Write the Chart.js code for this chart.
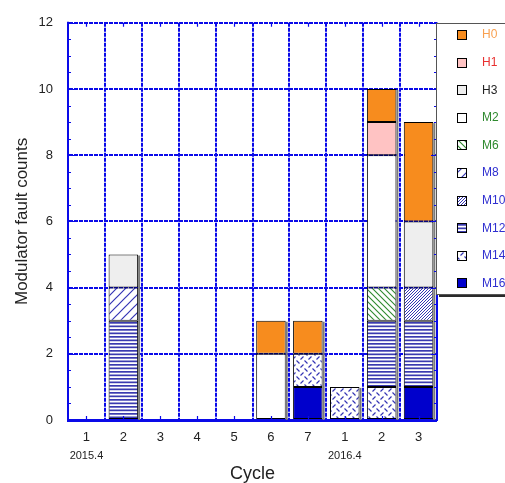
<!DOCTYPE html>
<html>
<head>
<meta charset="utf-8">
<script src="https://cdn.jsdelivr.net/npm/chart.js@4.4.1/dist/chart.umd.min.js"></script>
<style>
  html, body { margin: 0; padding: 0; background: #fff; overflow: hidden; }
</style>
</head>
<body>
<canvas id="c" width="505" height="483"></canvas>
<script>
// Cycle numbers along the x axis, with the run period written under the first cycle of each run
const cycles  = ['1', '2', '3', '4', '5', '6', '7', '1', '2', '3'];
const periods = ['2015.4', '', '', '', '', '', '', '2016.4', '', ''];
const yMin = 0, yMax = 12, yStep = 2;

// Fault counts per modulator, one value per cycle
const H0  = [0, 0, 0, 0, 0, 1, 1, 0, 1, 3];
const H1  = [0, 0, 0, 0, 0, 0, 0, 0, 1, 0];
const H3  = [0, 1, 0, 0, 0, 0, 0, 0, 0, 2];
const M2  = [0, 0, 0, 0, 0, 2, 0, 0, 4, 0];
const M6  = [0, 0, 0, 0, 0, 0, 0, 0, 1, 0];
const M8  = [0, 1, 0, 0, 0, 0, 0, 0, 0, 0];
const M10 = [0, 0, 0, 0, 0, 0, 0, 0, 0, 1];
const M12 = [0, 3, 0, 0, 0, 0, 0, 0, 2, 2];
const M14 = [0, 0, 0, 0, 0, 0, 1, 1, 1, 0];
const M16 = [0, 0, 0, 0, 0, 0, 1, 0, 0, 1];

const BLUE = '#0a0ae8';
const FONT = 'Arial, "Liberation Sans", sans-serif';

const canvas = document.getElementById('c');
const ctx0 = canvas.getContext('2d');

// Small repeating tiles used as hatch fills
function tile(w, h, bg, draw) {
  const t = document.createElement('canvas');
  t.width = w; t.height = h;
  const g = t.getContext('2d');
  g.fillStyle = bg; g.fillRect(0, 0, w, h);
  draw(g, w, h);
  return ctx0.createPattern(t, 'repeat');
}
function slash(s, color, lw) {           // "/" hatching
  return tile(s, s, '#fff', (g) => {
    g.strokeStyle = color; g.lineWidth = lw;
    g.beginPath();
    g.moveTo(-1, s + 1); g.lineTo(s + 1, -1);
    g.moveTo(-1, 1); g.lineTo(1, -1);
    g.moveTo(s - 1, s + 1); g.lineTo(s + 1, s - 1);
    g.stroke();
  });
}
function backslash(s, color, lw) {       // "\" hatching
  return tile(s, s, '#fff', (g) => {
    g.strokeStyle = color; g.lineWidth = lw;
    g.beginPath();
    g.moveTo(-1, -1); g.lineTo(s + 1, s + 1);
    g.moveTo(s - 1, -1); g.lineTo(s + 1, 1);
    g.moveTo(-1, s - 1); g.lineTo(1, s + 1);
    g.stroke();
  });
}
const fillM6  = backslash(6, '#2f8a2f', 1.1);
const fillM8  = slash(9, '#3535b5', 1.2);
const fillM10 = slash(3, '#3535b5', 1);
const fillM12 = tile(7, 7, '#fff', (g, w) => {
  g.fillStyle = '#3a3ab0';
  g.fillRect(0, 0, w, 1.7);
  g.fillRect(0, 3.5, w, 1.7);
});
const fillM14 = tile(8, 8, '#fff', (g) => {
  g.strokeStyle = '#3535b5'; g.lineWidth = 1.2;
  g.beginPath();
  g.moveTo(0.5, 0.5); g.lineTo(3.5, 3.5);
  g.moveTo(4.5, 7.5); g.lineTo(7.5, 4.5);
  g.stroke();
});

// Stack order is bottom to top; the key lists them top to bottom
const series = [
  { name: 'M16', data: M16, fill: '#0000cc', text: '#2f2fd0' },
  { name: 'M14', data: M14, fill: fillM14,   text: '#2f2fd0' },
  { name: 'M12', data: M12, fill: fillM12,   text: '#2f2fd0' },
  { name: 'M10', data: M10, fill: fillM10,   text: '#2f2fd0' },
  { name: 'M8',  data: M8,  fill: fillM8,    text: '#2f2fd0' },
  { name: 'M6',  data: M6,  fill: fillM6,    text: '#2f8a2f' },
  { name: 'M2',  data: M2,  fill: '#ffffff', text: '#2f8a2f' },
  { name: 'H3',  data: H3,  fill: '#eeeeee', text: '#222222' },
  { name: 'H1',  data: H1,  fill: '#ffc3c3', text: '#e8302f' },
  { name: 'H0',  data: H0,  fill: '#f78c1e', text: '#f8a050' },
];

const datasets = series.map(s => ({
  label: s.name,
  data: s.data.map(v => (v > 0 ? v : null)),
  backgroundColor: s.fill,
  borderColor: '#000',
  borderWidth: 1,
  borderSkipped: false,
  categoryPercentage: 0.8,
  barPercentage: 1.0,
  textColor: s.text,
}));

// Grey edge to the right of each stacked column
const columnEdge = {
  id: 'columnEdge',
  afterDatasetsDraw(chart) {
    const ctx = chart.ctx;
    const y = chart.scales.y;
    ctx.save();
    ctx.fillStyle = '#7a7a7a';
    for (let j = 0; j < cycles.length; j++) {
      let topY = null, xR = null;
      chart.data.datasets.forEach((ds, i) => {
        if (ds.data[j] == null) return;
        const el = chart.getDatasetMeta(i).data[j];
        if (topY === null || el.y < topY) topY = el.y;
        xR = el.x + el.width / 2;
      });
      if (topY === null) continue;
      const base = y.getPixelForValue(0);
      ctx.fillRect(xR, topY + 1, 2, base - topY - 1);
    }
    ctx.restore();
  }
};

// Axis lines, inward tick marks, period labels and the key
const frame = {
  id: 'frame',
  afterDraw(chart) {
    const ctx = chart.ctx;
    const { left, right, top, bottom } = chart.chartArea;
    const { x, y } = chart.scales;
    ctx.save();
    ctx.strokeStyle = BLUE;
    ctx.lineWidth = 2;
    ctx.beginPath();
    ctx.moveTo(left, top - 1); ctx.lineTo(left, bottom + 1); ctx.lineTo(right, bottom + 1);
    ctx.moveTo(right, top); ctx.lineTo(right, bottom + 1);
    ctx.stroke();

    ctx.lineWidth = 1.2;
    ctx.beginPath();
    for (let v = yMin; v <= yMax + 1e-9; v += yStep / 4) {
      const py = Math.round(y.getPixelForValue(v)) + 0.5;
      const len = Math.abs(v % yStep) < 1e-9 ? 6 : 3;
      ctx.moveTo(left, py); ctx.lineTo(left + len, py);
      ctx.moveTo(right - len, py); ctx.lineTo(right, py);
    }
    for (let i = 0; i < cycles.length; i++) {
      const px = Math.round(x.getPixelForValue(i)) + 0.5;
      ctx.moveTo(px, bottom); ctx.lineTo(px, bottom - 4);
      ctx.moveTo(px, top); ctx.lineTo(px, top + 4);
    }
    ctx.stroke();

    // run period under the first cycle of each run
    ctx.fillStyle = '#222';
    ctx.font = '11px ' + FONT;
    ctx.textAlign = 'center';
    ctx.textBaseline = 'middle';
    periods.forEach((p, i) => {
      if (p) ctx.fillText(p, x.getPixelForValue(i), 456);
    });

    // key box with drop shadow
    const bx = 436, by = 23, bw = 90, bh = 271;
    ctx.fillStyle = '#2a2a2a';
    ctx.fillRect(bx + 3, by + 3, bw, bh);
    ctx.fillStyle = '#fff';
    ctx.fillRect(bx, by, bw, bh);
    ctx.strokeStyle = '#555';
    ctx.lineWidth = 1;
    ctx.strokeRect(bx + 0.5, by + 0.5, bw, bh);

    const rows = chart.data.datasets.slice().reverse();
    ctx.font = '12px ' + FONT;
    ctx.textAlign = 'left';
    rows.forEach((ds, k) => {
      const cy = 35 + k * 27.6;
      ctx.fillStyle = ds.backgroundColor;
      ctx.fillRect(457, Math.round(cy) - 5, 10, 10);
      ctx.strokeStyle = '#000';
      ctx.strokeRect(457.5, Math.round(cy) - 4.5, 9, 9);
      ctx.fillStyle = ds.textColor;
      ctx.fillText(ds.label, 482, cy);
    });
    ctx.restore();
  }
};

new Chart(canvas, {
  type: 'bar',
  data: { labels: cycles, datasets },
  plugins: [columnEdge, frame],
  options: {
    responsive: false,
    animation: false,
    events: [],
    layout: { padding: { left: 0, top: 20, right: 68, bottom: 0 } },
    plugins: { legend: { display: false }, tooltip: { enabled: false } },
    scales: {
      x: {
        stacked: true,
        grid: { color: BLUE, lineWidth: 2, drawTicks: false, offset: true },
        border: { display: true, color: BLUE, width: 2, dash: [4, 1] },
        ticks: { color: '#222', font: { family: FONT, size: 13 }, padding: 10, maxRotation: 0, autoSkip: false },
        title: { display: true, text: 'Cycle', color: '#222', font: { family: FONT, size: 18, lineHeight: 1 }, padding: { top: 0, bottom: 0 } },
        afterFit(s) { s.height = 63; }
      },
      y: {
        stacked: true,
        min: yMin, max: yMax,
        grid: { color: BLUE, lineWidth: 2, drawTicks: false },
        border: { display: true, color: BLUE, width: 2, dash: [4, 1] },
        ticks: { stepSize: yStep, color: '#222', font: { family: FONT, size: 13 }, padding: 15 },
        title: { display: true, text: 'Modulator fault counts', color: '#222', font: { family: FONT, size: 17, lineHeight: 1 }, padding: { top: 14, bottom: 0 } },
        afterFit(s) { s.width = 68; }
      }
    }
  }
});
</script>
</body>
</html>
